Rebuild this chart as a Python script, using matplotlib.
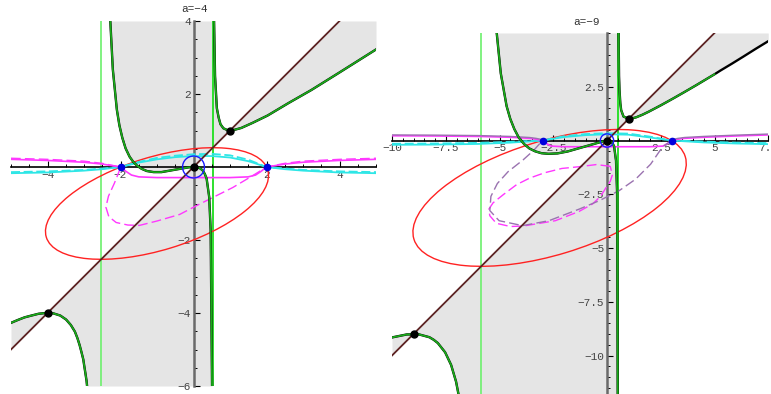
import numpy as np
import matplotlib
matplotlib.use('Agg')
import matplotlib.pyplot as plt
from matplotlib.patches import Ellipse, Circle

# ---------------------------------------------------------------
# panel a = -4
a_left = -4
asym_left = [-2.53, 0.53]
diag_left = [-5, 4]
# green curve, three branches (asymptote end points pushed off-screen)
gl_x1 = [-5.00, -4.81, -4.63, -4.44, -4.24, -4.04, -3.84, -3.65, -3.49, -3.36, -3.25, -3.18,
         -3.12, -3.07, -3.02, -2.99, -2.96, -2.93, -2.91, -2.89, -2.53]
gl_y1 = [-4.27, -4.19, -4.12, -4.07, -4.02, -4.00, -4.01, -4.07, -4.18, -4.33, -4.51, -4.69,
         -4.88, -5.07, -5.27, -5.47, -5.66, -5.86, -6.06, -6.25, -30]
gl_x2 = [-2.53, -2.29, -2.21, -2.10, -2.03, -1.95, -1.86, -1.75, -1.65, -1.54, -1.42, -1.28, -1.09,
         -0.88, -0.14, 0.00, 0.07, 0.17, 0.25, 0.31, 0.36, 0.43, 0.47, 0.51, 0.53]
gl_y2 = [30, 4.20, 2.67, 1.57, 1.14, 0.80, 0.51, 0.28, 0.14, 0.03, -0.05, -0.11, -0.14,
         -0.14, -0.01, 0.00, -0.00, -0.03, -0.09, -0.19, -0.32, -0.82, -1.73, -6.19, -30]
gl_x3 = [0.53, 0.56, 0.59, 0.64, 0.69, 0.74, 0.82, 0.93, 1.09, 1.31, 1.62, 2.03, 2.60, 3.23, 4.00, 5.00]
gl_y3 = [30, 4.20, 2.50, 1.61, 1.35, 1.17, 1.06, 1.01, 1.01, 1.07, 1.21, 1.41, 1.75, 2.11, 2.59, 3.22]
# red ellipse: centre, full axes, tilt
ell_left = ((-1.0, -1.0), 6.34, 2.55, 16.9)
circ_left = 0.3
# cyan / magenta curves
cy_x_left = [-5, -4, -3, -2.5, -2, -1.5, -1, -0.5, 0, 0.5, 1, 1.5, 2, 2.5, 3, 4, 5]
cy_y_left = [-0.17, -0.15, -0.1, -0.06, 0, 0.12, 0.21, 0.27, 0.3, 0.3, 0.26, 0.16, 0, -0.06, -0.1, -0.15, -0.17]
cyd_y_left = [-0.14, -0.12, -0.08, -0.04, 0, 0.14, 0.25, 0.31, 0.35, 0.36, 0.32, 0.2, 0, -0.04, -0.08, -0.12, -0.14]
mg_x_left = [-5, -4, -3, -2.5, -2, -1.85, -1.7, -1.5, -1, 0, 1, 1.5, 1.7, 1.85, 2, 2.5, 3, 4, 5]
mg_y_left = [0.21, 0.18, 0.13, 0.08, 0, -0.12, -0.22, -0.27, -0.29, -0.29, -0.29, -0.27, -0.22, -0.12,
             0, 0.08, 0.13, 0.18, 0.21]
mgd_x_left = [-5, -4, -3, -2.5, -2, -2.05, -2.17, -2.33, -2.4, -2.32, -2.12, -1.8, -1.48, -1.0,
              -0.38, 0.16, 1.08, 1.6, 2, 2.5, 3, 4, 5]
mgd_y_left = [0.24, 0.21, 0.16, 0.1, 0, -0.15, -0.45, -0.8, -1.1, -1.36, -1.52, -1.59, -1.6, -1.48,
              -1.3, -1.02, -0.56, -0.25, 0, 0.1, 0.16, 0.21, 0.24]

# ---------------------------------------------------------------
# panel a = -9
a_right = -9
asym_right = [-5.85, 0.51]
diag_right = [-10, 5]
gr_x1 = [-10.00, -9.31, -8.74, -8.26, -8.06, -7.87, -7.53, -7.25, -7.02, -6.83, -5.85]
gr_y1 = [-9.16, -9.02, -9.02, -9.15, -9.27, -9.42, -9.85, -10.44, -11.22, -12.20, -40]
gr_x2 = [-5.85, -5.15, -4.94, -4.67, -4.50, -4.31, -4.10, -3.85, -3.61, -3.35, -3.05, -2.72, -2.30,
         -1.83, -0.08, 0.00, 0.07, 0.18, 0.26, 0.33, 0.42, 0.47, 0.50, 0.51]
gr_y2 = [40, 5.20, 3.12, 1.60, 1.01, 0.53, 0.13, -0.17, -0.37, -0.50, -0.59, -0.62, -0.60,
         -0.51, -0.01, 0.00, -0.00, -0.04, -0.13, -0.27, -0.94, -2.43, -12.19, -40]
gr_x3 = [0.51, 0.54, 0.55, 0.56, 0.57, 0.58, 0.60, 0.62, 0.66, 0.77, 1.05, 1.36, 1.65, 1.94, 2.51,
         3.07, 3.63, 4.18, 4.73, 5.00, 5.27, 5.82, 6.37, 6.91, 7.50]
gr_y3 = [40, 5.25, 3.97, 3.01, 2.69, 2.37, 2.05, 1.73, 1.41, 1.11, 1.00, 1.08, 1.20, 1.34, 1.64,
         1.95, 2.27, 2.59, 2.92, 3.08, 3.25, 3.58, 3.92, 4.26, 4.62]
ell_right = ((-2.67, -2.67), 13.19, 5.31, 16.9)
circ_right = 0.31
cy_x_right = [-10, -8, -6, -4.5, -3, -2, -1, 0, 1, 2, 3, 4.5, 6, 7.5]
cy_y_right = [-0.2, -0.19, -0.16, -0.1, 0, 0.16, 0.25, 0.29, 0.27, 0.14, 0, -0.09, -0.14, -0.17]
cyd_y_right = [-0.15, -0.14, -0.11, -0.06, 0, 0.2, 0.3, 0.34, 0.32, 0.18, 0, -0.05, -0.1, -0.12]
mg_x_right = [-10, -8, -6, -4.5, -3.6, -3.3, -3, -2.8, -2.6, -2, 0, 2, 2.6, 2.8, 3, 3.3, 3.6, 4.5, 6, 7.5]
mg_y_right = [0.22, 0.21, 0.19, 0.15, 0.1, 0.06, 0, -0.15, -0.26, -0.29, -0.29, -0.29, -0.26, -0.15,
              0, 0.06, 0.1, 0.15, 0.21, 0.26]
mgd_x_right = [0.15, -0.5, -1.3, -2.1, -2.9, -3.6, -4.2, -4.8, -5.3, -5.5, -5.45, -5.15, -4.5, -3.9,
               -2.4, -1.3, -0.67, -0.3, -0.05, 0.15, 0.25, 0.15]
mgd_y_right = [-1.2, -1.12, -1.22, -1.3, -1.5, -1.75, -2.05, -2.5, -2.9, -3.2, -3.5, -3.85, -4.0, -3.98,
               -3.73, -3.3, -2.95, -2.6, -2.2, -1.9, -1.6, -1.2]
pd_x_right = [3, 2.58, 2.03, 1.33, 0.57, -0.36, -1.29, -2.7, -3.93, -5.02, -5.45, -5.4, -5.1, -4.6,
              -3.9, -3.4, -3]
pd_y_right = [0, -0.3, -1.1, -1.8, -2.33, -2.8, -3.19, -3.73, -3.96, -3.73, -3.26, -2.6, -2.0, -1.45,
              -0.9, -0.45, 0]

GRAY = '#e5e5e5'
GREEN = '#1aaa1a'
CYAN = '#2ee6e6'
MAGENTA = '#ff38ff'
PURPLE = '#9a72b0'
MONO = 'Liberation Mono'


def fill_region(ax, xs1, ys1, xs2, ys2, xs3, ys3, ybot, ytop):
    x1, y1 = np.array(xs1), np.clip(ys1, ybot, ytop)
    ax.fill_between(x1, np.clip(x1, ybot, ytop), y1, color=GRAY, lw=0, zorder=0)
    x2, y2 = np.array(xs2), np.array(ys2)
    top = np.clip(np.maximum(x2, y2), ybot, ytop)
    bot = np.clip(np.minimum(x2, y2), ybot, ytop)
    ax.fill_between(x2, top, ytop, color=GRAY, lw=0, zorder=0)
    ax.fill_between(x2, ybot, bot, color=GRAY, lw=0, zorder=0)
    x3, y3 = np.array(xs3), np.clip(ys3, ybot, ytop)
    ax.fill_between(x3, np.clip(x3, ybot, ytop), y3, color=GRAY, lw=0, zorder=0)


def setup_axes(ax, xlim, ylim, xt, yt, xl, yl):
    ax.set_xlim(xlim)
    ax.set_ylim(ylim)
    for s in ['top', 'right']:
        ax.spines[s].set_visible(False)
    ax.spines['left'].set_position(('data', 0))
    ax.spines['bottom'].set_position(('data', 0))
    ax.spines['bottom'].set_color('black')
    ax.spines['bottom'].set_linewidth(1.2)
    ax.spines['left'].set_color('#6a6a6a')
    ax.spines['left'].set_linewidth(1.8)
    ax.spines['bottom'].set_zorder(2)
    ax.spines['left'].set_zorder(2)
    ax.set_xticks(xt)
    ax.set_xticklabels(xl)
    ax.set_yticks(yt)
    ax.set_yticklabels(yl)
    ax.set_xticks(np.arange(np.ceil(xlim[0]*2)/2, xlim[1]+0.01, 0.5), minor=True)
    ax.set_yticks(np.arange(np.ceil(ylim[0]*2)/2, ylim[1]+0.01, 0.5), minor=True)
    ax.tick_params(which='major', direction='in', length=4, width=0.8, color='black',
                   labelsize=8, labelcolor='#444444', pad=2)
    ax.tick_params(which='minor', direction='in', length=2, width=0.7, color='black')
    for t in ax.get_xticklabels() + ax.get_yticklabels():
        t.set_fontfamily(MONO)
    ax.patch.set_visible(False)


def draw_panel(ax, a, asym, diag, g, ell, circ, xlim, ylim, green_max):
    (x1, y1), (x2, y2), (x3, y3) = g
    fill_region(ax, x1, y1, x2, y2, x3, y3, ylim[0], ylim[1])
    ax.axvline(asym[0], color='#6cf06c', lw=1.2, zorder=1)
    ax.axvline(asym[1], color='#2ee02e', lw=1.4, zorder=1)
    ax.add_patch(Ellipse(ell[0], ell[1], ell[2], angle=ell[3], fill=False,
                         ec='#ff2222', lw=1.0, zorder=3))
    ax.plot(diag, diag, color='#5c2222', lw=1.3, zorder=5)
    for xs, ys in g:
        xs, ys = np.array(xs), np.array(ys)
        ax.plot(xs, ys, color='black', lw=1.7, zorder=6)
        m = xs <= green_max
        ax.plot(xs[m], ys[m], color=GREEN, lw=1.3, zorder=6)
    ax.add_patch(Circle((0, 0), circ, fill=False, ec='#1a1aff', lw=1.0, zorder=7))
    r = np.sqrt(-a)
    ax.plot([-r, r], [0, 0], 'o', color='#0000dd', ms=4.5, zorder=8)
    ax.plot([0, 1, a], [0, 1, a], 'o', color='black', ms=5, zorder=8)


fig = plt.figure(figsize=(7.71, 3.94), dpi=100)
W, H = 771.0, 394.0

axl = fig.add_axes([11/W, 8/H, 365/W, 365/H])
setup_axes(axl, (-5, 5), (-6, 4), [-4, -2, 2, 4], [-6, -4, -2, 2, 4],
           ['−4', '−2', '2', '4'], ['−6', '−4', '−2', '2', '4'])
axl.plot(cy_x_left, cy_y_left, color=CYAN, lw=1.3, zorder=4)
axl.plot(cy_x_left, cyd_y_left, color=CYAN, lw=1.3, ls=(0, (5, 2)), zorder=4)
axl.plot(mg_x_left, mg_y_left, color=MAGENTA, lw=1.2, zorder=4)
axl.plot(mgd_x_left, mgd_y_left, color=MAGENTA, lw=1.0, ls=(0, (7, 3)), zorder=4)
draw_panel(axl, a_left, asym_left, diag_left,
           [(gl_x1, gl_y1), (gl_x2, gl_y2), (gl_x3, gl_y3)],
           ell_left, circ_left, (-5, 5), (-6, 4), 5.0)

axr = fig.add_axes([392/W, -4.5/H, 376.25/W, 365.5/H])
setup_axes(axr, (-10, 7.5), (-12, 5), [-10, -7.5, -5, -2.5, 2.5, 5, 7.5], [-10, -7.5, -5, -2.5, 2.5],
           ['−10', '−7.5', '−5', '−2.5', '2.5', '5', '7.5'], ['−10', '−7.5', '−5', '−2.5', '2.5'])
axr.plot(cy_x_right, cy_y_right, color=CYAN, lw=1.3, zorder=4)
axr.plot(cy_x_right, cyd_y_right, color=CYAN, lw=1.3, ls=(0, (5, 2)), zorder=4)
axr.plot(mg_x_right, mg_y_right, color=MAGENTA, lw=1.2, zorder=4)
axr.plot(mg_x_right[:7], np.array(mg_y_right[:7]) + 0.04, color=PURPLE, lw=1.0, zorder=4)
axr.plot(mg_x_right[14:], np.array(mg_y_right[14:]) + 0.04, color=PURPLE, lw=1.0, zorder=4)
axr.plot(mgd_x_right, mgd_y_right, color=MAGENTA, lw=1.0, ls=(0, (7, 3)), zorder=4)
axr.plot(pd_x_right, pd_y_right, color=PURPLE, lw=1.0, ls=(0, (7, 3)), zorder=4)
draw_panel(axr, a_right, asym_right, diag_right,
           [(gr_x1, gr_y1), (gr_x2, gr_y2), (gr_x3, gr_y3)],
           ell_right, circ_right, (-10, 7.5), (-12, 5), 5.0)

fig.text(194/W, 1 - 9/H, 'a=−4', ha='center', va='center', fontsize=8,
         family=MONO, color='#333333')
fig.text(587/W, 1 - 22/H, 'a=−9', ha='center', va='center', fontsize=8,
         family=MONO, color='#333333')

fig.savefig('out.png', dpi=100)
